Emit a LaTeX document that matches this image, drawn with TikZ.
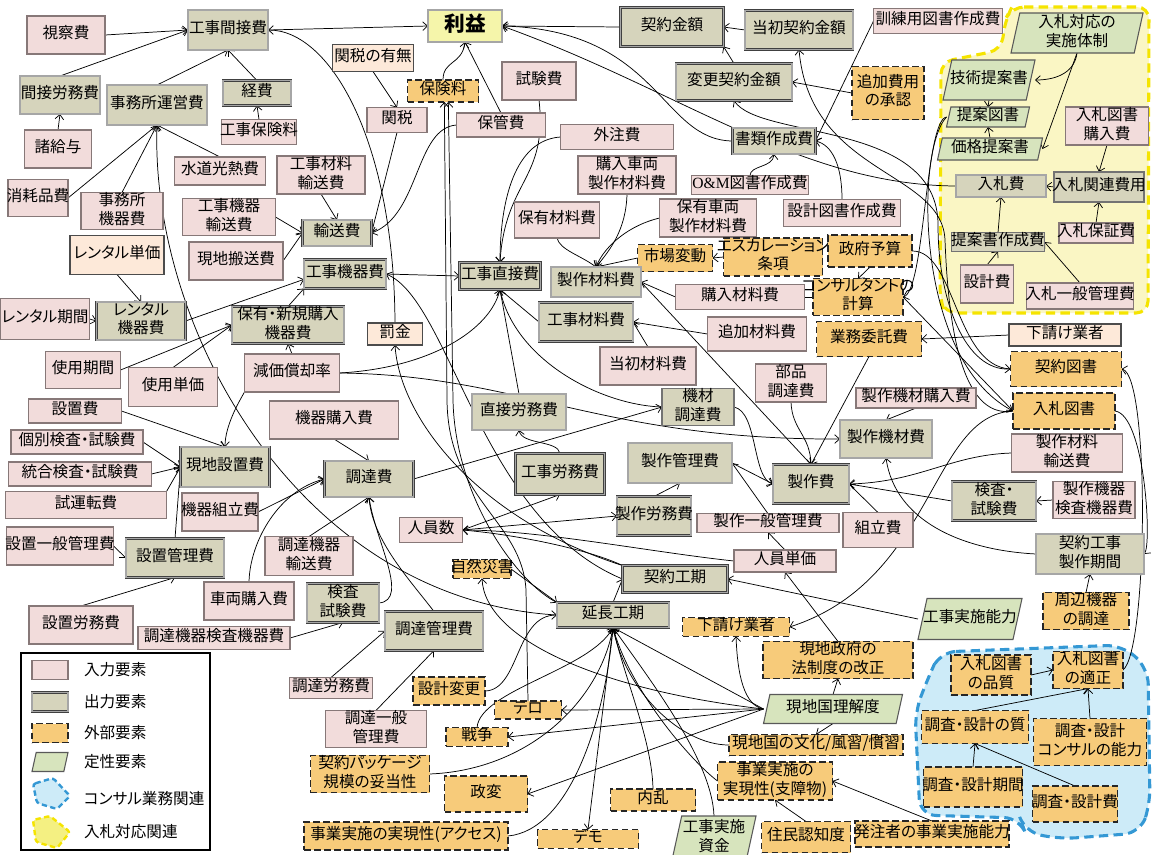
\documentclass[tikz,border=0pt]{standalone}
\usepackage{fontspec}
\setmainfont[RawFeature=+palt]{Noto Sans CJK JP}
\newfontfamily\romanfont{Liberation Serif}
\usetikzlibrary{arrows.meta}
\pgfdeclarelayer{back}
\pgfdeclarelayer{mid}
\pgfsetlayers{back,mid,main}

\definecolor{inpfill}{RGB}{242,220,219}
\definecolor{inpline}{RGB}{135,120,120}
\definecolor{outfill}{RGB}{214,212,188}
\definecolor{extfill}{RGB}{247,203,122}
\definecolor{qualfill}{RGB}{215,228,189}
\definecolor{pchfill}{RGB}{253,233,217}
\definecolor{profitfill}{RGB}{245,245,170}
\definecolor{ylwfill}{RGB}{250,246,196}
\definecolor{ylwline}{RGB}{245,228,0}
\definecolor{ylwleg}{RGB}{244,240,130}
\definecolor{bluefill}{RGB}{205,235,248}
\definecolor{blueline}{RGB}{52,152,212}

\newcommand{\fs}{\fontsize{11.7}{13.6}\selectfont}
\newcommand{\T}[1]{\makebox[0pt]{\begin{tabular}{@{}c@{}}#1\end{tabular}}}

\tikzset{
  base/.style={inner sep=0pt, outer sep=0pt, font=\fs},
  inp/.style={base, fill=inpfill, draw=inpline, line width=0.9pt},
  outp/.style={base, fill=outfill, draw=black!75, line width=0.6pt, double=black!35, double distance=0.8pt},
  outq/.style={base, fill=outfill, draw=black!55, line width=0.9pt},
  ext/.style={base, fill=extfill, draw=black!85, line width=1pt, dash pattern=on 5pt off 2.5pt},
  pch/.style={base, fill=pchfill, draw=black!70, line width=0.9pt},
  profit/.style={base, fill=profitfill, draw=black!75, line width=0.6pt, double=black!35, double distance=0.8pt, font=\fontsize{15.5}{17}\selectfont\bfseries},
  plain/.style={base},
  qualshape/.style={fill=qualfill, draw=black!65, line width=0.8pt},
  ar/.style={draw, line width=0.55pt, -{Straight Barb[length=3.6pt,width=6.5pt]}},
  ln/.style={draw, line width=0.55pt},
}

% box: name, x, y, width, height (pixel units), style, text
\newcommand{\bx}[7]{%
  \pgfmathsetlengthmacro\bw{#4*0.75pt}\pgfmathsetlengthmacro\bh{#5*0.75pt}%
  \node[#6, minimum width=\bw, minimum height=\bh] (#1) at (#2,#3) {\T{#7}};}
% parallelogram: name, x, y, width, height, text
\newcommand{\pbx}[6]{%
  \pgfmathsetmacro\qsl{0.22*#5}%
  \filldraw[qualshape] ({#2-#4/2},{#3+#5/2}) -- ({#2+#4/2-\qsl},{#3+#5/2}) -- ({#2+#4/2},{#3-#5/2}) -- ({#2-#4/2+\qsl},{#3-#5/2}) -- cycle;
  \pgfmathsetlengthmacro\bw{#4*0.75pt}\pgfmathsetlengthmacro\bh{#5*0.75pt}%
  \node[plain, minimum width=\bw, minimum height=\bh] (#1) at (#2,#3) {\T{#6}};}

\begin{document}
\begin{tikzpicture}[x=0.75pt,y=-0.75pt]
\useasboundingbox (0,0) rectangle (1152,854);

% ---------- grouped areas ----------
\begin{pgfonlayer}{back}
\draw[fill=ylwfill, draw=ylwline, line width=2.3pt, dash pattern=on 7pt off 4pt, rounded corners=9pt]
  (1012,7) -- (1149,7) -- (1148,313) -- (945,313) -- (940,300) -- (941,62) -- (1001,50) -- (1006,18) -- cycle;
\draw[fill=bluefill, draw=blueline, line width=2.3pt, dash pattern=on 7pt off 4pt, rounded corners=12pt]
  (940,652) -- (1122,645) -- (1148,668) -- (1150,805) -- (1140,833) -- (1060,839) -- (1025,832) -- (1020,818) -- (920,815) -- (915,712) -- (928,678) -- cycle;
\end{pgfonlayer}

% ---------- indirect costs ----------
\bx{n01}{66}{35}{78}{38}{inp}{視察費}
\bx{n02}{228}{30}{80}{40}{outp}{工事間接費}
\bx{n03}{60}{95}{80}{38}{outp}{間接労務費}
\bx{n04}{157}{105}{100}{40}{outp}{事務所運営費}
\bx{n05}{257}{93}{68}{25}{outp}{経費}
\bx{n06}{259}{132}{75}{25}{inp}{工事保険料}
\bx{n07}{58}{149}{67}{38}{inp}{諸給与}
\bx{n08}{220}{171}{91}{28}{inp}{水道光熱費}
\bx{n09}{38}{198}{60}{37}{inp}{消耗品費}
\bx{n10}{122}{211}{82}{37}{inp}{事務所\\機器費}
\bx{n11}{229}{217}{93}{36}{inp}{工事機器\\輸送費}
\bx{n12}{321}{175}{88}{38}{inp}{工事材料\\輸送費}
\bx{n13}{236}{261}{94}{38}{inp}{現地搬送費}
\bx{n14}{337}{233}{69}{26}{outp}{輸送費}
\bx{n15}{117}{255}{94}{39}{pch}{レンタル単価}
\bx{n16}{373}{58}{81}{27}{pch}{関税の有無}
\bx{n17}{443}{91}{71}{22}{ext}{保険料}
\bx{n18}{397}{120}{60}{25}{inp}{関税}
\bx{n19}{501}{125}{89}{24}{inp}{保管費}
\bx{n20}{539}{81}{74}{38}{inp}{試験費}
\bx{n21}{465}{26}{74}{32}{profit}{利益}

% ---------- direct costs ----------
\bx{n22}{500}{276}{81}{27}{outp}{工事直接費}
\bx{n23}{345}{274}{82}{29}{outp}{工事機器費}
\bx{n24}{557}{220}{85}{36}{inp}{保有材料費}
\bx{n25}{617}{137}{113}{25}{inp}{外注費}
\bx{n26}{627}{175}{98}{38}{inp}{購入車両\\製作材料費}
\bx{n27}{708}{218}{97}{38}{inp}{保有車両\\製作材料費}
\bx{n28}{672}{27}{103}{39}{outp}{契約金額}
\bx{n29}{799}{30}{108}{39}{outp}{当初契約金額}
\bx{n30}{734}{82}{116}{37}{outp}{変更契約金額}
\bx{n31}{774}{141}{83}{26}{outp}{書類作成費}
\bx{n32}{750}{185}{117}{17}{inp}{{\romanfont O\&M}図書作成費}
\bx{n33}{842}{213}{117}{27}{inp}{設計図書作成費}
\bx{n34}{938}{21}{129}{25}{inp}{訓練用図書作成費}
\bx{n35}{888}{93}{72}{53}{ext}{追加費用\\の承認}
\bx{n36}{675}{258}{75}{27}{ext}{市場変動}
\bx{n37}{773}{257}{99}{38}{ext}{エスカレーション\\条項}
\bx{n38}{870}{251}{84}{32}{ext}{政府予算}
\bx{n39}{858}{297}{90}{36}{ext}{コンサルタントの\\計算}
\bx{n40}{596}{282}{90}{30}{outp}{製作材料費}
\bx{n41}{740}{297}{129}{25}{inp}{購入材料費}
\bx{n42}{586}{322}{94}{39}{outp}{工事材料費}
\bx{n43}{757}{334}{99}{34}{inp}{追加材料費}
\bx{n44}{648}{366}{96}{38}{inp}{当初材料費}
\bx{n45}{869}{339}{105}{35}{ext}{業務委託費}
\bx{n46}{1065}{335}{112}{22}{pch}{下請け業者}
\bx{n47}{1066}{369}{111}{35}{ext}{契約図書}
\bx{n48}{1064}{411}{102}{36}{ext}{入札図書}
\bx{n49}{916}{398}{120}{20}{inp}{製作機材購入費}
\bx{n50}{886}{439}{92}{38}{outp}{製作機材費}
\bx{n51}{1067}{453}{111}{38}{inp}{製作材料\\輸送費}
\bx{n52}{994}{501}{84}{39}{outp}{検査・\\試験費}
\bx{n53}{1094}{500}{82}{35}{inp}{製作機器\\検査機器費}
\bx{n54}{878}{530}{70}{35}{inp}{組立費}
\bx{n55}{1090}{554}{108}{40}{outp}{契約工事\\製作期間}
\bx{n56}{1086}{611}{86}{36}{ext}{周辺機器\\の調達}
\pbx{n57}{970}{619}{104}{41}{工事実施能力}

% ---------- consultant related ----------
\bx{n58}{991}{675}{80}{40}{ext}{入札図書\\の品質}
\bx{n59}{1088}{670}{70}{35}{ext}{入札図書\\の適正}
\bx{n60}{975}{727}{107}{33}{ext}{調査・設計の質}
\bx{n61}{1090}{742}{113}{47}{ext}{調査・設計\\コンサルの能力}
\bx{n62}{973}{787}{99}{40}{ext}{調査・設計期間}
\bx{n63}{1075}{804}{85}{36}{ext}{調査・設計費}

% ---------- external factors ----------
\bx{n64}{932}{834}{154}{26}{ext}{発注者の事業実施能力}
\bx{n65}{806}{837}{89}{31}{ext}{住民認知度}
\pbx{n66}{714}{838}{84}{44}{工事実施\\資金}
\bx{n67}{653}{800}{85}{22}{ext}{内乱}
\bx{n68}{588}{839}{101}{18}{ext}{デモ}
\bx{n69}{775}{781}{115}{38}{ext}{事業実施の\\実現性(支障物)}
\bx{n70}{816}{745}{174}{21}{ext}{現地国の文化/風習/慣習}
\pbx{n71}{833}{709}{139}{29}{現地国理解度}
\bx{n72}{838}{660}{150}{36}{ext}{現地政府の\\法制度の改正}
\bx{n73}{736}{627}{107}{18}{ext}{下請け業者}
\bx{n74}{675}{579}{105}{27}{outp}{契約工期}
\bx{n75}{613}{615}{112}{25}{outp}{延長工期}
\bx{n76}{785}{561}{102}{22}{inp}{人員単価}
\bx{n77}{768}{523}{142}{17}{inp}{製作一般管理費}
\bx{n78}{654}{516}{74}{39}{outp}{製作労務費}
\bx{n79}{680}{463}{104}{40}{outp}{製作管理費}
\bx{n80}{811}{484}{76}{39}{outp}{製作費}
\bx{n81}{698}{407}{72}{35}{outq}{機材\\調達費}
\bx{n82}{791}{383}{71}{38}{inp}{部品\\調達費}
\bx{n83}{560}{474}{89}{41}{outp}{工事労務費}
\bx{n84}{519}{412}{94}{36}{outp}{直接労務費}
\bx{n85}{431}{530}{63}{25}{inp}{人員数}
\bx{n86}{482}{569}{58}{18}{ext}{自然災害}

% ---------- procurement and equipment ----------
\bx{n87}{369}{479}{89}{36}{outp}{調達費}
\bx{n88}{334}{420}{129}{38}{inp}{機器購入費}
\bx{n89}{395}{334}{55}{22}{pch}{罰金}
\bx{n90}{292}{373}{95}{38}{inp}{減価償却率}
\bx{n91}{288}{325}{112}{36}{outp}{保有・新規購入\\機器費}
\bx{n92}{141}{321}{89}{38}{outp}{レンタル\\機器費}
\bx{n93}{45}{319}{89}{41}{inp}{レンタル期間}
\bx{n94}{83}{370}{75}{37}{inp}{使用期間}
\bx{n95}{173}{387}{89}{39}{inp}{使用単価}
\bx{n96}{75}{411}{93}{24}{inp}{設置費}
\bx{n97}{77}{442}{132}{24}{inp}{個別検査・試験費}
\bx{n98}{80}{474}{143}{24}{inp}{統合検査・試験費}
\bx{n99}{86}{505}{161}{27}{inp}{試運転費}
\bx{n100}{225}{467}{89}{40}{outp}{現地設置費}
\bx{n101}{220}{512}{76}{38}{inp}{機器組立費}
\bx{n102}{60}{546}{107}{38}{inp}{設置一般管理費}
\bx{n103}{175}{558}{98}{39}{outp}{設置管理費}
\bx{n104}{309}{556}{88}{39}{inp}{調達機器\\輸送費}
\bx{n105}{81}{625}{104}{38}{inp}{設置労務費}
\bx{n106}{249}{601}{90}{38}{inp}{車両購入費}
\bx{n107}{214}{638}{152}{23}{inp}{調達機器検査機器費}
\bx{n108}{343}{603}{72}{39}{outp}{検査\\試験費}
\bx{n109}{434}{631}{98}{39}{outp}{調達管理費}
\bx{n110}{331}{688}{83}{21}{inp}{調達労務費}
\bx{n111}{376}{729}{101}{37}{inp}{調達一般\\管理費}
\bx{n112}{449}{691}{72}{28}{ext}{設計変更}
\bx{n113}{528}{710}{67}{18}{ext}{テロ}
\bx{n114}{477}{737}{62}{18}{ext}{戦争}
\bx{n115}{370}{774}{119}{37}{ext}{契約パッケージ\\規模の妥当性}
\bx{n116}{486}{794}{83}{36}{ext}{政変}
\bx{n117}{406}{836}{204}{28}{ext}{事業実施の実現性(アクセス)}

% ---------- bidding related ----------
\pbx{y01}{1077}{33}{132}{40}{入札対応の\\実施体制}
\pbx{y02}{989}{80}{92}{40}{技術提案書}
\pbx{y03}{988}{117}{83}{20}{提案図書}
\pbx{y04}{990}{149}{105}{22}{価格提案書}
\bx{y05}{1107}{126}{83}{38}{inp}{入札図書\\購入費}
\bx{y06}{1001}{186}{90}{22}{outp}{入札費}
\bx{y07}{1099}{187}{90}{30}{outq}{入札関連費用}
\bx{y08}{1096}{233}{74}{20}{inp}{入札保証費}
\bx{y09}{998}{242}{93}{18}{outq}{提案書作成費}
\bx{y10}{987}{284}{53}{38}{inp}{設計費}
\bx{y11}{1080}{296}{107}{26}{inp}{入札一般管理費}

% ---------- legend ----------
\node[draw, line width=1.1pt, inner sep=0pt, minimum width=141.75pt, minimum height=147.75pt] (lgbox) at (115.5,751.5) {};
\bx{lg1}{50}{670}{36}{19}{inp}{}
\bx{lg2}{50}{702}{36}{19}{outp}{}
\bx{lg3}{50}{733}{36}{19}{ext}{}
\pbx{lg4}{50}{762}{36}{19}{}
\draw[fill=bluefill, draw=blueline, line width=1.8pt, dash pattern=on 4pt off 2.5pt, rounded corners=2pt]
  (33,784) -- (53,778) -- (70,796) -- (57,809) -- (37,803) -- cycle;
\draw[fill=ylwleg, draw=ylwline, line width=1.8pt, dash pattern=on 4pt off 2.5pt, rounded corners=2pt]
  (33,820) -- (50,816) -- (70,832) -- (57,848) -- (36,842) -- cycle;
\node[plain, anchor=west] (lt1) at (84,670) {入力要素};
\node[plain, anchor=west] (lt2) at (84,702) {出力要素};
\node[plain, anchor=west] (lt3) at (84,733) {外部要素};
\node[plain, anchor=west] (lt4) at (84,762) {定性要素};
\node[plain, anchor=west] (lt5) at (84,799) {コンサル業務関連};
\node[plain, anchor=west] (lt6) at (84,832) {入札対応関連};

% ---------- connectors ----------
\begin{pgfonlayer}{mid}
% indirect costs
\draw[ar] (n01.east) -- (n02.west);
\draw[ar] (n03.north) -- (n02.west);
\draw[ar] (n04.north) -- (n02.south);
\draw[ar] (n05.north) -- (n02.south);
\draw[ar] (n06.north) -- (n05.south);
\draw[ar] (n07.north) -- (n03.south);
\draw[ar] (n09.east) -- (n04.south);
\draw[ar] (n10.north) -- (n04.south);
\draw[ar] (n08.north) -- (n04.south);
\draw[ar] (n75.west) .. controls (300,600) and (150,330) .. (n04.south);
\draw[ar] (n02.east) -- (n21.west);
\draw[ar] (n89.north) .. controls (394,140) and (330,30) .. (n02.east);
% transport, customs, profit
\draw[ar] (n16.south) -- (n18.north);
\draw[ar] (n18.south) -- (n14.east);
\draw[ar] (n19.west) .. controls (415,128) and (420,215) .. (n14.east);
\draw[ar] (n12.south) -- (n14.north);
\draw[ar] (n11.east) -- (n14.west);
\draw[ar] (n13.east) -- (n14.west);
\draw[ar] (n17.north) .. controls (443,60) and (462,65) .. (n21.south);
\draw[ar] (n19.north) -- (n21.south);
\draw[ar] (n28.west) -- (n21.east);
\draw[ar] (n31.west) .. controls (660,140) and (660,30) .. (n21.east);
\draw[ar] (y06.west) .. controls (800,185) and (680,90) .. (n21.east);
\draw[ar] (n29.west) -- (n28.east);
\draw[ar] (n30.north) -- (n28.south east);
\draw[ar] (n35.west) -- (n30.east);
\draw[ar] (n34.west) -- (n31.east);
\draw[ar] (n33.north) .. controls (842,165) and (832,145) .. (n31.east);
\draw[ar] (n32.north) .. controls (750,165) and (773,168) .. (n31.south);
\draw[ar] (n38.south) -- (n39.north);
% materials
\draw[ar] (n37.west) -- (n36.east);
\draw[ar] (n36.west) -- (n40.north);
\draw[ar] (n26.south) .. controls (626,230) and (610,250) .. (n40.north);
\draw[ar] (n27.west) .. controls (630,225) and (605,245) .. (n40.north);
\draw[ar] (n24.south) .. controls (560,250) and (580,255) .. (n40.north);
\draw[ar] (n41.west) -- (n40.east);
\draw[ln] (n39.west) -- (n41.east);
\draw[ar] (n40.east) -- (n80.north);
\draw[ar] (n42.west) -- (n22.south);
\draw[ar] (n43.west) -- (n42.east);
\draw[ar] (n44.north) -- (n42.east);
\draw[ar] (n25.west) .. controls (515,140) and (500,200) .. (n22.north);
\draw[ar] (n20.south) .. controls (548,180) and (505,180) .. (n22.north);
% labour
\draw[ar] (n84.north) -- (n22.south);
\draw[ar] (n83.north) .. controls (558,440) and (522,445) .. (n84.south);
\draw[ar] (n85.east) -- (n83.south);
\draw[ar] (n85.east) -- (n78.west);
\draw[ar] (n74.north west) .. controls (590,550) and (520,535) .. (n85.east);
\draw[ar] (n76.west) .. controls (650,552) and (540,530) .. (n85.east);
\draw[ar] (n76.north) -- (n77.south);
\draw[ar] (n77.north) -- (n79.east);
\draw[ar] (n78.north) -- (n79.south);
% manufacturing
\draw[ar] (n79.east) -- (n80.west);
\draw[ar] (n81.east) .. controls (758,412) and (752,478) .. (n80.west);
\draw[ar] (n82.south) .. controls (792,430) and (810,435) .. (n80.north);
\draw[ar] (n45.south) -- (n80.north);
\draw[ar] (n46.west) -- (n45.east);
\draw[ar] (n49.south) -- (n50.north);
\draw[ar] (n51.west) .. controls (950,455) and (920,482) .. (n80.east);
\draw[ar] (n52.west) -- (n80.east);
\draw[ar] (n53.west) -- (n52.east);
\draw[ar] (n54.north) -- (n80.east);
\draw[ar] (n55.west) .. controls (960,550) and (895,520) .. (n50.south);
\draw[ar] (n56.north) -- (n55.south);
\draw[ar] (n57.west) -- (n74.east);
% documents
\draw[ar] (n48.west) .. controls (930,415) and (935,580) .. (n73.east);
\draw[ar] (n59.east) .. controls (1148,650) and (1150,375) .. (n47.east);
\draw[ar] (n48.east) .. controls (1145,415) and (1152,545) .. (n55.east);
\draw[ar] (n38.east) .. controls (955,250) and (955,365) .. (n47.west);
\draw[ar] (n39.east) -- (n48.west);
\draw[ar] (y03.west) .. controls (925,120) and (925,290) .. (n39.east);
\draw[ar] (y03.west) .. controls (915,150) and (915,360) .. (n48.west);
\draw[ar] (n47.west) .. controls (965,372) and (938,300) .. (938,225) .. controls (938,120) and (760,140) .. (n30.south);
\draw[ar] (n48.west) .. controls (960,420) and (948,320) .. (945,240) .. controls (942,170) and (810,175) .. (n29.south);
% bidding
\draw[ar] (y01.south) .. controls (1075,70) and (1060,80) .. (y02.east);
\draw[ar] (y01.south) -- (y04.east);
\draw[ar] (y02.south) -- (y03.north);
\draw[ar] (y04.north) -- (y03.south);
\draw[ar] (y05.south) -- (y07.north);
\draw[ar] (y08.north) -- (y07.south);
\draw[ar] (y07.west) -- (y06.east);
\draw[ar] (y09.north) -- (y06.south);
\draw[ar] (y10.north) -- (y09.south);
\draw[ar] (y11.north) -- (y09.east);
% consultant work
\draw[ar] (n58.east) -- (n59.west);
\draw[ar] (n60.north) -- (n59.south);
\draw[ar] (n61.north) -- (n59.south);
\draw[ar] (n62.north) -- (n60.south);
\draw[ar] (n63.north) -- (n60.south);
% external factors
\draw[ar] (n64.north) -- (n69.east);
\draw[ar] (n65.north) -- (n69.south);
\draw[ar] (n71.north) -- (n72.south);
\draw[ar] (n71.south) -- (n70.north);
\draw[ar] (n71.west) .. controls (740,705) and (737,660) .. (n73.south);
\draw[ar] (n72.north) -- (n76.south);
\draw[ar] (n71.west) -- (n113.east);
\draw[ar] (n71.west) -- (n114.east);
\draw[ar] (n71.west) -- (n116.east);
\draw[ar] (n71.west) .. controls (600,690) and (485,640) .. (n86.south);
\draw[ar] (n71.west) -- (n75.south);
\draw[ar] (n75.south) -- (n68.north);
\draw[ar] (n67.north) .. controls (652,740) and (625,680) .. (n75.south);
\draw[ar] (n66.north) .. controls (712,760) and (650,680) .. (n75.south);
\draw[ar] (n69.west) .. controls (690,760) and (630,690) .. (n75.south);
\draw[ar] (n70.west) .. controls (680,745) and (625,690) .. (n75.south);
\draw[ar] (n117.east) .. controls (570,830) and (605,720) .. (n75.south);
\draw[ar] (n115.east) .. controls (530,770) and (600,700) .. (n75.south);
\draw[ar] (n114.north) .. controls (480,690) and (590,670) .. (n75.south);
\draw[ar] (n86.east) -- (n75.north west);
\draw[ar] (n112.east) .. controls (520,690) and (515,615) .. (n75.west);
\draw[ar] (n113.north) -- (526,590) .. controls (522,520) and (448,500) .. (447,400) -- ([xshift=1pt]n17.south);
\draw[ar] (n75.north west) .. controls (520,585) and (455,500) .. (453,400) -- ([xshift=4pt]n17.south);
\draw[ar] (n75.north) -- (n74.west);
\draw[ar] (n74.west) .. controls (480,520) and (450,300) .. (n23.east);
\draw[ar] (n74.north west) .. controls (480,520) and (400,420) .. (n89.south);
% procurement
\draw[ar] (n81.west) .. controls (600,405) and (515,360) .. (n22.south);
\draw[ar] (n90.east) .. controls (430,368) and (490,330) .. (n22.south);
\draw[ar] (n90.east) .. controls (520,375) and (600,440) .. (n50.west);
\draw[ar] (n87.east) -- (n81.west);
\draw[ar] (n88.south) -- (n87.north);
\draw[ar] (n101.east) -- (n87.west);
\draw[ar] (n106.north) .. controls (250,540) and (280,490) .. (n87.west);
\draw[ar] (n104.north) -- (n87.south);
\draw[ar] (n108.east) .. controls (410,600) and (375,540) .. (n87.south);
\draw[ar] (n109.north) .. controls (410,580) and (372,540) .. (n87.south);
\draw[ar] (n107.east) -- (n108.south);
\draw[ar] (n110.north) -- (n109.west);
\draw[ar] (n111.north) -- (n109.south);
\draw[ar] (n23.east) -- (n22.west);
% equipment and installation
\draw[ar] (n15.south) -- (n92.north);
\draw[ar] (n93.east) -- (n92.west);
\draw[ar] (n92.east) -- ([yshift=-4pt]n23.west);
\draw[ar] (n91.north) -- (n23.south west);
\draw[ar] (n94.east) -- (n91.west);
\draw[ar] (n95.north) -- (n91.west);
\draw[ar] (n90.north) -- (n91.south);
\draw[ar] (n90.south west) .. controls (240,400) and (225,425) .. (n100.north);
\draw[ar] (n96.east) -- (n100.north);
\draw[ar] (n97.east) -- (n100.west);
\draw[ar] (n98.east) -- (n100.west);
\draw[ar] (n99.north east) -- (n100.west);
\draw[ar] (n103.north) -- (n100.west);
\draw[ar] (n102.east) -- (n103.west);
\draw[ar] (n105.north) -- (n103.south);
\end{pgfonlayer}
\end{tikzpicture}
\end{document}
